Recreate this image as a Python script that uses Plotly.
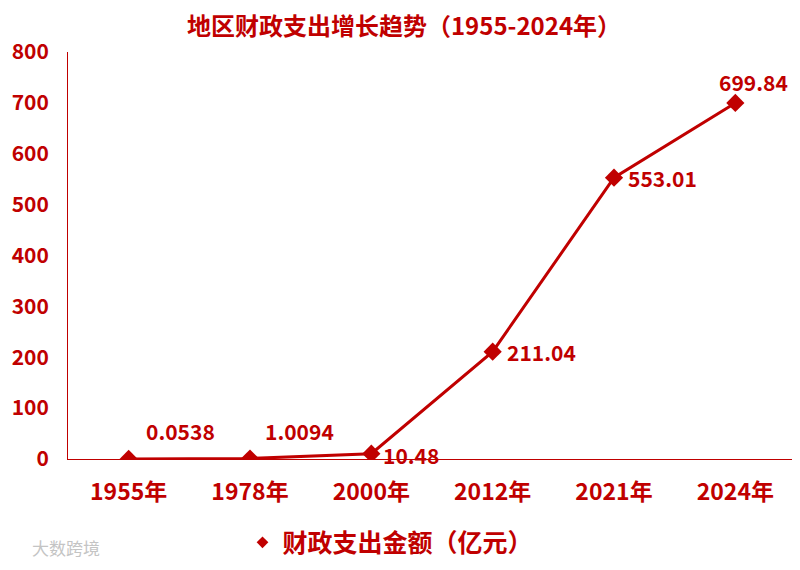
import plotly.graph_objects as go

categories = ["1955年", "1978年", "2000年", "2012年", "2021年", "2024年"]
values = [0.0538, 1.0094, 10.48, 211.04, 553.01, 699.84]
value_labels = ["0.0538", "1.0094", "10.48", "211.04", "553.01", "699.84"]
y_ticks = [0, 100, 200, 300, 400, 500, 600, 700, 800]
series_name = "财政支出金额（亿元）"

RED = "#C00000"
FONT = "Noto Sans CJK SC"

# the page body has an 8px margin, so the figure is drawn 8px smaller
W, H = 792, 562
L, R, T, B = 54, 4, 44, 109

fig = go.Figure()
fig.add_trace(go.Scatter(
    x=categories, y=values, mode="lines+markers", name=series_name,
    showlegend=False,
    line=dict(color=RED, width=3),
    marker=dict(symbol="diamond", size=14, color=RED),
))
# legend entry: marker only
fig.add_trace(go.Scatter(
    x=[None], y=[None], mode="markers", name=series_name,
    marker=dict(symbol="diamond", size=9, color=RED),
))

# label placement (xshift, yshift, xanchor)
label_pos = [(52, 28, "center"), (49, 27, "center"), (10, -1, "left"),
             (12, 0, "left"), (12, 0, "left"), (18, 21, "center")]
for cat, v, t, (dx, dy, xa) in zip(categories, values, value_labels, label_pos):
    fig.add_annotation(x=cat, y=v, text=t, showarrow=False, xshift=dx, yshift=dy,
                       xanchor=xa, yanchor="middle",
                       font=dict(family=FONT, size=21, color=RED, weight="bold"))

fig.add_annotation(xref="paper", yref="paper", x=(16 - L) / (W - L - R),
                   y=(H - B - 542) / (H - T - B), text="大数跨境",
                   showarrow=False, xanchor="left", yanchor="middle",
                   font=dict(family=FONT, size=17, color="#C4C4C4"))

fig.update_layout(
    width=W, height=H,
    margin=dict(l=L, r=R, t=T, b=B),
    paper_bgcolor="white", plot_bgcolor="white",
    title=dict(text="地区财政支出增长趋势（1955-2024年）", x=0.5, xanchor="center",
               xref="container", y=1 - 19 / H, yanchor="middle", yref="container",
               font=dict(family=FONT, size=24, color=RED, weight="bold")),
    font=dict(family=FONT, color=RED),
    showlegend=True,
    legend=dict(orientation="h", x=0.443, xanchor="center",
                y=(H - B - 537) / (H - T - B), yanchor="middle",
                font=dict(family=FONT, size=25, color=RED, weight="bold"),
                itemwidth=30),
    xaxis=dict(type="category", range=[-0.5, 5.5], showline=True, linecolor=RED,
               linewidth=1, showgrid=False, ticks="", ticklabelstandoff=12,
               tickfont=dict(family=FONT, size=23, color=RED, weight="bold")),
    yaxis=dict(range=[0, 800], tickvals=y_ticks, showline=True, linecolor=RED,
               linewidth=1, showgrid=False, zeroline=False, ticks="",
               ticklabelstandoff=14,
               tickfont=dict(family=FONT, size=21, color=RED, weight="bold")),
)

fig.write_html("out.html")
